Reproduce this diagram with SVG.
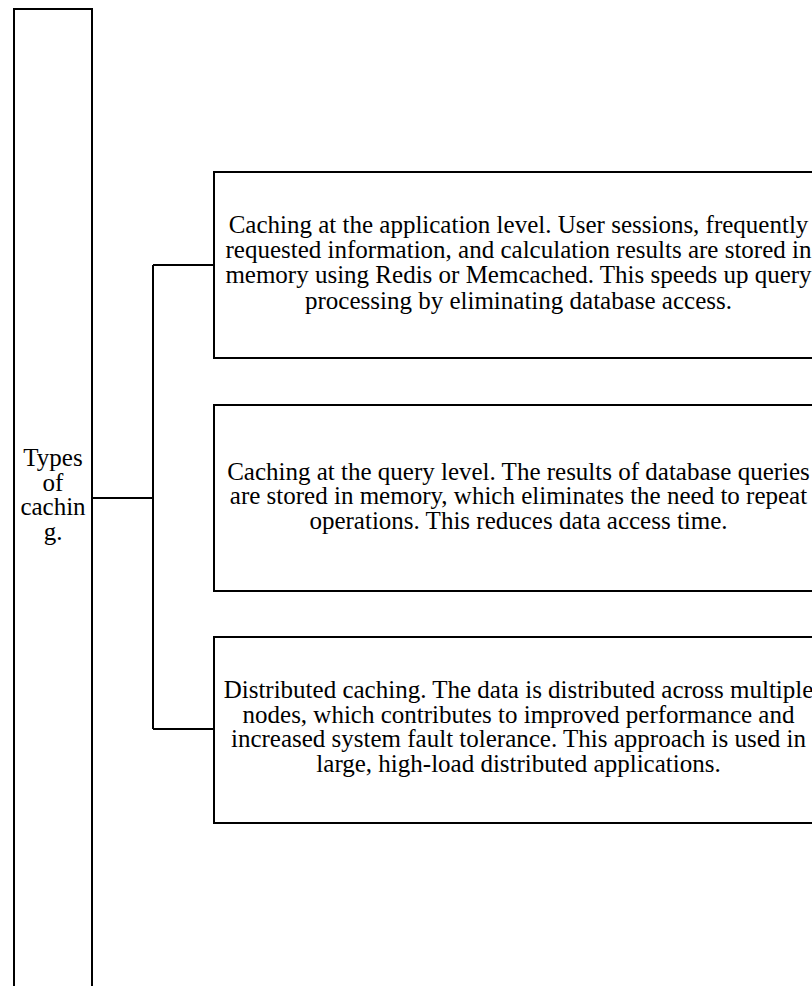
<svg xmlns="http://www.w3.org/2000/svg" width="812" height="986" viewBox="0 0 812 986">
  <style>
    .box { fill: #ffffff; stroke: #000000; stroke-width: 2; }
    .conn { fill: none; stroke: #000000; stroke-width: 2; }
    .t { font-family: "Liberation Serif", "Times New Roman", serif; font-size: 25px; fill: #000000; text-anchor: middle; }
  </style>
  <rect x="0" y="0" width="812" height="986" fill="#ffffff"/>
  <g id="connectors">
    <path class="conn" d="M92,498 H153 M153,265 V729 M153,265 H214 M153,729 H214"/>
  </g>
  <g id="node-types">
    <rect class="box" x="14" y="9" width="78" height="1000"/>
    <text class="t" x="53" y="466">Types</text>
    <text class="t" x="53" y="490.5">of</text>
    <text class="t" x="53" y="515">cachin</text>
    <text class="t" x="53" y="539.5">g.</text>
  </g>
  <g id="node-application">
    <rect class="box" x="214" y="172" width="620" height="186"/>
    <text class="t" x="518.5" y="232.5">Caching at the application level. User sessions, frequently</text>
    <text class="t" x="518.5" y="258">requested information, and calculation results are stored in</text>
    <text class="t" x="518.5" y="283">memory using Redis or Memcached. This speeds up query</text>
    <text class="t" x="518.5" y="308.5">processing by eliminating database access.</text>
  </g>
  <g id="node-query">
    <rect class="box" x="214" y="405" width="620" height="186"/>
    <text class="t" x="518.5" y="480">Caching at the query level. The results of database queries</text>
    <text class="t" x="518.5" y="504.3">are stored in memory, which eliminates the need to repeat</text>
    <text class="t" x="518.5" y="528.5">operations. This reduces data access time.</text>
  </g>
  <g id="node-distributed">
    <rect class="box" x="214" y="637" width="620" height="186"/>
    <text class="t" x="518.5" y="698.3">Distributed caching. The data is distributed across multiple</text>
    <text class="t" x="518.5" y="722.5">nodes, which contributes to improved performance and</text>
    <text class="t" x="518.5" y="747">increased system fault tolerance. This approach is used in</text>
    <text class="t" x="518.5" y="771.5">large, high-load distributed applications.</text>
  </g>
</svg>
